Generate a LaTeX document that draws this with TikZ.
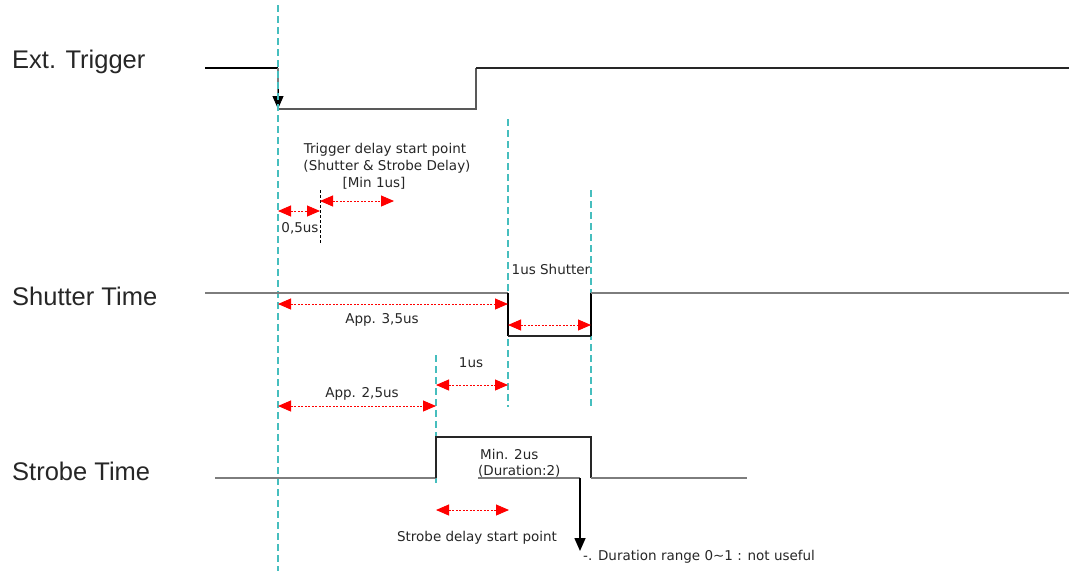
\documentclass[tikz,border=0pt]{standalone}
\usepackage{fontspec}
\setmainfont{Liberation Sans}
\newfontfamily\smallfam{DejaVu Sans}
\usetikzlibrary{arrows.meta}
\definecolor{guidecol}{RGB}{70,190,190}
\definecolor{sigcol}{RGB}{125,125,125}
\begin{document}
\begin{tikzpicture}[x=1pt,y=-1pt,
  guide/.style={draw=guidecol, line width=1.6pt, dash pattern=on 7pt off 4pt},
  blackguide/.style={draw=black, line width=0.8pt, dash pattern=on 3pt off 2pt},
  dimarrow/.style={draw=red, line width=0.9pt, dash pattern=on 2pt off 1.5pt,
    {Triangle[length=13pt,width=11pt]}-{Triangle[length=13pt,width=11pt]}},
  sigline/.style={draw=sigcol, line width=2.6pt},
  darkline/.style={draw=black!85, line width=1.8pt},
  biglabel/.style={font=\fontsize{25.5}{30}\selectfont, anchor=base west, inner sep=0pt, text=black!85},
  smalllabel/.style={font=\smallfam\fontsize{13.5}{16}\selectfont, anchor=base, inner sep=0pt, text=black!85},
  downarrow/.style={draw=black, line width=1.6pt, -{Triangle[length=13pt,width=11pt]}}
]
\useasboundingbox (0,0) rectangle (1069,571);

% ---------- labels on the left
\node[biglabel] (lext) at (12,68) {Ext. Trigger};
\node[biglabel] (lsh) at (12,305) {Shutter Time};
\node[biglabel] (lst) at (12,480) {Strobe Time};

% ---------- guide lines
\coordinate (g1t) at (278,5);   \coordinate (g1b) at (278,571);
\coordinate (g2t) at (508,119); \coordinate (g2b) at (508,407);
\coordinate (g3t) at (591,190); \coordinate (g3b) at (591,407);
\coordinate (g4t) at (436,355); \coordinate (g4b) at (436,486);
\coordinate (g5t) at (320,190); \coordinate (g5b) at (320,244);

% ---------- Ext. Trigger signal
\coordinate (e0) at (205,68);
\coordinate (e1) at (278,68);
\coordinate (e2) at (278,109);
\coordinate (e3) at (476,109);
\coordinate (e4) at (476,68);
\coordinate (e5) at (1069,68);
\draw[black, line width=1.4pt] (e0) -- (e1);
\draw[sigcol, line width=1.2pt] (e1) -- (278,98);
\draw[downarrow, line width=1pt] (278,88) -- (e2);
\draw[darkline, draw=black!65] (e2) -- (e3) -- (e4);
\draw[darkline] (e4) -- (e5);

\draw[guide] (g1t) -- (g1b);
\draw[guide] (g2t) -- (g2b);
\draw[guide] (g3t) -- (g3b);
\draw[guide] (g4t) -- (g4b);
\draw[blackguide] (g5t) -- (g5b);

% ---------- Shutter signal
\coordinate (s0) at (205,293);
\coordinate (s1) at (508,293);
\coordinate (s2) at (508,336);
\coordinate (s3) at (591,336);
\coordinate (s4) at (591,293);
\coordinate (s5) at (1069,293);
\draw[sigline] (s0) -- (s1);
\draw[black, line width=1.4pt] (s1) -- (s2);
\draw[darkline] (s2) -- (s3);
\draw[black, line width=1.4pt] (s3) -- (s4);
\draw[sigline] (s4) -- (s5);

% ---------- Strobe signal
\coordinate (t0) at (215,478);
\coordinate (t1) at (436,478);
\coordinate (t2) at (436,437);
\coordinate (t3) at (591,437);
\coordinate (t4) at (591,478);
\coordinate (t5) at (747,478);
\coordinate (u0) at (478,478);
\coordinate (u1) at (580,478);
\coordinate (u2) at (580,551);
\draw[sigline] (t0) -- (t1);
\draw[darkline] (t1) -- (t2) -- (t3) -- (t4);
\draw[sigline] (t4) -- (t5);
\draw[sigline, line width=2.2pt] (u0) -- (u1);
\draw[downarrow] (u1) -- (u2);

% ---------- dimension arrows
\coordinate (a1l) at (278,211); \coordinate (a1r) at (320,211);
\coordinate (a2l) at (320,201); \coordinate (a2r) at (394,201);
\coordinate (a3l) at (278,304); \coordinate (a3r) at (508,304);
\coordinate (a4l) at (508,325); \coordinate (a4r) at (591,325);
\coordinate (a5l) at (436,385); \coordinate (a5r) at (508,385);
\coordinate (a6l) at (278,406); \coordinate (a6r) at (436,406);
\coordinate (a7l) at (436,510); \coordinate (a7r) at (509,510);
\draw[dimarrow] (a1l) -- (a1r);
\draw[dimarrow] (a2l) -- (a2r);
\draw[dimarrow] (a3l) -- (a3r);
\draw[dimarrow] (a4l) -- (a4r);
\draw[dimarrow] (a5l) -- (a5r);
\draw[dimarrow] (a6l) -- (a6r);
\draw[dimarrow] (a7l) -- (a7r);

% ---------- small labels
\node[smalllabel] (tx1) at (385,153) {Trigger delay start point};
\node[smalllabel] (tx2) at (387,170) {(Shutter \& Strobe Delay)};
\node[smalllabel] (tx3) at (374,187) {[Min 1us]};
\node[smalllabel] (tx4) at (300,232) {0,5us};
\node[smalllabel] (tx5) at (382,323) {App. 3,5us};
\node[smalllabel] (tx6) at (551,274) {1us Shutter};
\node[smalllabel] (tx7) at (471,367) {1us};
\node[smalllabel] (tx8) at (362,397) {App. 2,5us};
\node[smalllabel, anchor=base west] (tx9) at (480,459) {Min. 2us};
\node[smalllabel, anchor=base west] (tx10) at (478,475) {(Duration:2)};
\node[smalllabel] (tx11) at (477,541) {Strobe delay start point};
\node[smalllabel, anchor=base west] (tx12) at (583,560) {-. Duration range 0\textasciitilde 1 : not useful};
\end{tikzpicture}
\end{document}
